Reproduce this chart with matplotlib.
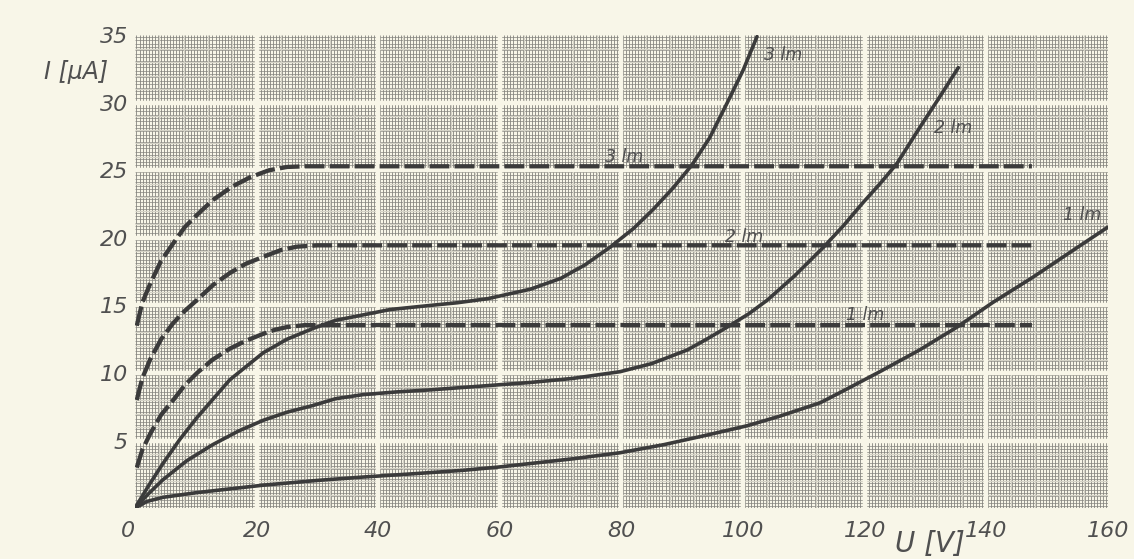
import matplotlib.pyplot as plt
import numpy as np

# solid curves: current vs voltage at 1, 2, 3 lm
u_1lm = [0, 2, 4.6, 10.2, 21.1, 30, 37.5, 46, 54, 60, 65, 72, 79.8, 87, 94, 100.7, 106, 112.7,
         117, 122.5, 129, 135.2, 141, 147.7, 154, 160]
i_1lm = [0, 0.5, 0.8, 1.15, 1.7, 2.05, 2.3, 2.55, 2.8, 3.05, 3.3, 3.65, 4.1, 4.7, 5.4, 6.1, 6.8, 7.8,
         8.8, 10.1, 11.7, 13.4, 15.2, 17.1, 19.0, 20.8]

u_2lm = [0, 2.3, 4.6, 8.5, 12.8, 17, 21.1, 25, 29.3, 33, 37.5, 43, 48.5, 56, 65, 72, 79.8, 85, 90.8,
         94, 97.4, 101, 104, 108.5, 113.2, 116.5, 119.7, 122.5, 125.3, 129.1, 132, 135.4]
i_2lm = [0, 1.1, 2.1, 3.5, 4.7, 5.7, 6.5, 7.1, 7.6, 8.1, 8.4, 8.6, 8.75, 9.0, 9.3, 9.6, 10.1, 10.7, 11.7,
         12.5, 13.4, 14.4, 15.4, 17.2, 19.3, 20.9, 22.6, 24.0, 25.5, 28.2, 30.2, 32.6]

u_3lm = [0, 2.3, 4.6, 7.4, 10.2, 15.6, 21.1, 25, 29.3, 33, 37.5, 42, 48.5, 53, 58, 62, 65, 70, 74,
         78.1, 82, 85.2, 88.5, 91.6, 94.5, 97.4, 100, 102.3]
i_3lm = [0, 1.7, 3.3, 5.1, 6.7, 9.5, 11.5, 12.5, 13.3, 13.9, 14.3, 14.7, 15.0, 15.2, 15.5, 15.9, 16.2,
         17.0, 18.0, 19.3, 20.7, 22.1, 23.7, 25.4, 27.4, 30.0, 32.4, 34.9]

# dashed saturation curves
ud_3lm = [0.3, 1.2, 2.5, 4.3, 6.3, 8.2, 10.2, 12.8, 16, 19, 22, 25, 28, 147.5]
id_3lm = [13.5, 15.2, 16.6, 18.3, 19.6, 20.8, 21.7, 22.8, 23.8, 24.5, 25.0, 25.25, 25.3, 25.3]

ud_2lm = [0.3, 1.2, 2.5, 4.3, 6.3, 8.2, 10.2, 12.8, 15.6, 18.3, 21.1, 24, 26.6, 30, 147.5]
id_2lm = [8.0, 9.6, 11.0, 12.5, 13.7, 14.6, 15.4, 16.5, 17.4, 18.1, 18.6, 19.1, 19.35, 19.45, 19.45]

ud_1lm = [0.3, 1.2, 2.5, 4.3, 6.3, 8.2, 10.2, 12.8, 15.6, 18.3, 21.1, 23, 25, 28, 147.5]
id_1lm = [3.0, 4.3, 5.5, 6.9, 8.0, 9.1, 10.0, 11.0, 11.8, 12.4, 12.9, 13.2, 13.4, 13.55, 13.55]

x_ticks = [0, 20, 40, 60, 80, 100, 120, 140, 160]
y_ticks = [5, 10, 15, 20, 25, 30, 35]

paper = "#f8f6e8"
ink = "#3b3b3b"
txt = "#505050"

fig = plt.figure(figsize=(11.34, 5.59), dpi=100, facecolor=paper)
ax = fig.add_axes([0.119, 0.091, 0.858, 0.846])
ax.set_facecolor(paper)
ax.set_xlim(0, 160)
ax.set_ylim(0, 35)
for s in ax.spines.values():
    s.set_visible(False)

# graph paper: fine lines, lighter medium gaps, white major lines
ax.vlines(np.arange(0.25, 160, 0.5), 0, 35, color="#7a7a74", lw=0.55, zorder=0.5)
ax.hlines(np.arange(0.125, 35, 0.25), 0, 160, color="#83837d", lw=0.5, zorder=0.5)
ax.vlines(np.arange(4, 160, 4), 0, 35, color="#d4d2c6", lw=0.9, zorder=0.6)
ax.hlines(np.arange(1, 35, 1), 0, 160, color="#d4d2c6", lw=0.9, zorder=0.6)
ax.vlines(x_ticks[1:-1], 0, 35, color=paper, lw=3.2, zorder=0.7)
ax.hlines(y_ticks[:-1], 0, 160, color=paper, lw=3.2, zorder=0.7)

for u, i in [(u_1lm, i_1lm), (u_2lm, i_2lm), (u_3lm, i_3lm)]:
    ax.plot(u, i, color=ink, lw=2.6, solid_capstyle="round", solid_joinstyle="round", zorder=3)
for u, i in [(ud_1lm, id_1lm), (ud_2lm, id_2lm), (ud_3lm, id_3lm)]:
    ax.plot(u, i, color=ink, lw=3.1, linestyle=(0, (4.6, 1.2)), zorder=3)

lab = dict(color=txt, fontsize=12.5, fontstyle="italic", ha="center", va="center", zorder=4)
ax.text(106.6, 33.5, "3 lm", **lab)
ax.text(134.5, 28.1, "2 lm", **lab)
ax.text(155.8, 21.7, "1 lm", **lab)
ax.text(80.4, 26.0, "3 lm", **lab)
ax.text(100.2, 20.1, "2 lm", **lab)
ax.text(120.0, 14.3, "1 lm", **lab)

ax.set_xticks(x_ticks)
ax.set_xticklabels([str(v) for v in x_ticks], fontsize=16, fontstyle="italic", color=txt)
ax.xaxis.get_ticklabels()[0].set_horizontalalignment("right")
ax.set_yticks(y_ticks)
ax.set_yticklabels([str(v) for v in y_ticks], fontsize=16, fontstyle="italic", color=txt)
ax.tick_params(length=0)
ax.tick_params(axis="x", pad=9)
ax.tick_params(axis="y", pad=5)

ax.text(-0.061, 0.922, "I [µA]", transform=ax.transAxes, fontsize=17, fontstyle="italic",
        color=txt, ha="center", va="center")
ax.text(0.817, -0.075, "U [V]", transform=ax.transAxes, fontsize=20, fontstyle="italic",
        color=txt, ha="center", va="center")

fig.savefig("out.png", dpi=100, facecolor=paper)
